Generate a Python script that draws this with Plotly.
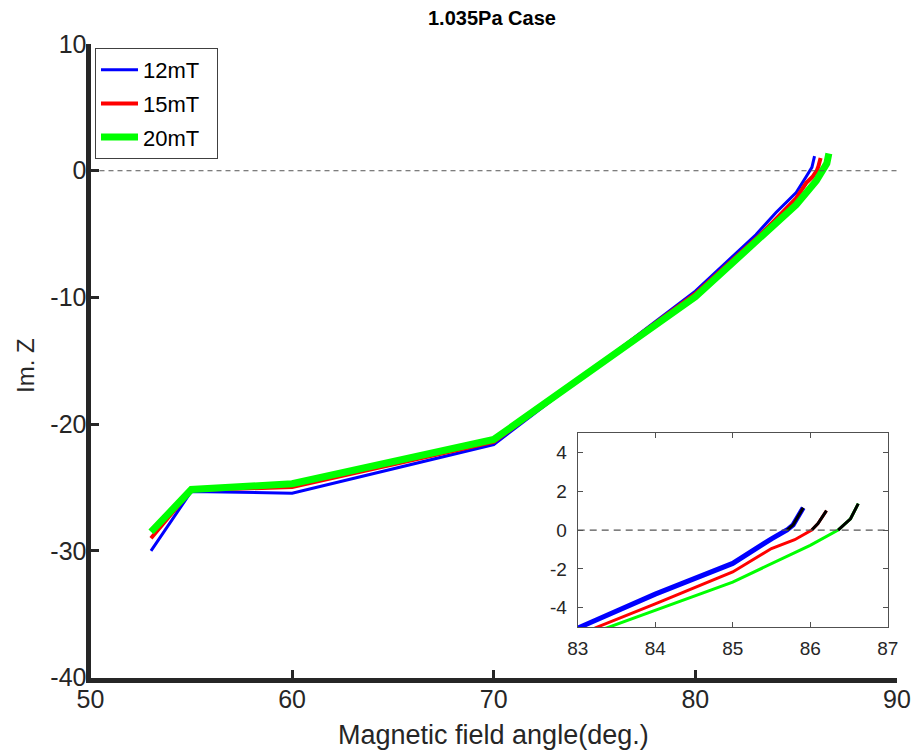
import plotly.graph_objects as go

# Im. Z versus magnetic field angle for three field strengths (1.035 Pa)
angle_12 = [53, 55, 60, 70, 80, 83.0, 84.0, 85.0, 85.5, 85.7, 85.78, 85.91]
imz_12 = [-30.0, -25.3, -25.45, -21.6, -9.5, -5.05, -3.3, -1.72, -0.45, 0.0, 0.27, 1.15]

angle_15 = [53, 55, 60, 70, 80, 83.22, 84.0, 85.0, 85.5, 85.8, 86.02, 86.1, 86.21]
imz_15 = [-29.0, -25.2, -24.95, -21.4, -9.7, -5.05, -3.8, -2.16, -0.95, -0.5, 0.0, 0.33, 1.0]

angle_20 = [53, 55, 60, 70, 80, 83.38, 84.0, 85.0, 86.0, 86.36, 86.52, 86.62]
imz_20 = [-28.5, -25.15, -24.7, -21.2, -9.95, -5.05, -4.14, -2.68, -0.79, 0.0, 0.58, 1.36]

series = [
    ("12mT", angle_12, imz_12, "#0000ff", 3, 5),
    ("15mT", angle_15, imz_15, "#ff0000", 4, 3),
    ("20mT", angle_20, imz_20, "#00ff00", 7, 3),
]

main_x_ticks = [50, 60, 70, 80, 90]
main_y_ticks = [-40, -30, -20, -10, 0, 10]
inset_x_ticks = [83, 84, 85, 86, 87]
inset_y_ticks = [-4, -2, 0, 2, 4]


def labels(vals):
    # plain hyphen for negative numbers
    return [str(v) for v in vals]


FONT = "Liberation Sans"
AXIS_COLOR = "#262626"
PAD = "\u00a0\u00a0"  # extra room on the right of legend entries

fig = go.Figure()

# main panel
for name, xs, ys, color, w_main, _ in series:
    fig.add_trace(go.Scatter(
        x=xs, y=ys, mode="lines", name=name + PAD, legendgroup=name,
        line=dict(color=color, width=w_main),
        xaxis="x", yaxis="y",
    ))

# zoomed inset around the zero crossing
for name, xs, ys, color, _, w_inset in series:
    fig.add_trace(go.Scatter(
        x=xs, y=ys, mode="lines", showlegend=False,
        line=dict(color=color, width=w_inset),
        xaxis="x2", yaxis="y2",
    ))
# positive part of each curve highlighted in black
for name, xs, ys, color, _, w_inset in series:
    pos = [(a, b) for a, b in zip(xs, ys) if b >= 0]
    fig.add_trace(go.Scatter(
        x=[p[0] for p in pos], y=[p[1] for p in pos], mode="lines",
        showlegend=False, line=dict(color="#000000", width=3),
        xaxis="x2", yaxis="y2",
    ))

# zero reference lines
fig.add_trace(go.Scatter(
    x=[main_x_ticks[0], main_x_ticks[-1]], y=[0, 0], mode="lines",
    showlegend=False, hoverinfo="skip",
    line=dict(color="#555555", width=1, dash="5px,4px"),
    xaxis="x", yaxis="y",
))
fig.add_trace(go.Scatter(
    x=[inset_x_ticks[0], inset_x_ticks[-1]], y=[0, 0], mode="lines",
    showlegend=False, hoverinfo="skip",
    line=dict(color="#555555", width=1.3, dash="7px,5px"),
    xaxis="x2", yaxis="y2",
))

fig.update_layout(
    width=912, height=753,
    margin=dict(l=0, r=0, t=0, b=0),
    paper_bgcolor="white", plot_bgcolor="white",
    font=dict(family=FONT, color=AXIS_COLOR),
    showlegend=True,
    legend=dict(
        x=95 / 912, y=1 - 48 / 753, xanchor="left", yanchor="top",
        bgcolor="white", bordercolor="#404040", borderwidth=1,
        font=dict(family=FONT, size=22, color="#000000"),
        tracegroupgap=2, itemwidth=37,
    ),
    xaxis=dict(
        domain=[90.5 / 912, 897 / 912], range=[50, 90],
        tickvals=main_x_ticks, ticktext=labels(main_x_ticks),
        ticks="inside", ticklen=8, tickwidth=3,
        tickcolor=AXIS_COLOR, showline=True, linewidth=5, linecolor=AXIS_COLOR,
        showgrid=False, zeroline=False, automargin=False,
        tickfont=dict(size=25, color=AXIS_COLOR), ticklabelstandoff=-5,
        anchor="y",
    ),
    yaxis=dict(
        domain=[1 - 677.7 / 753, 1 - 44 / 753], range=[-40, 10],
        tickvals=main_y_ticks, ticktext=labels(main_y_ticks),
        ticks="inside", ticklen=8, tickwidth=3,
        tickcolor=AXIS_COLOR, showline=True, linewidth=5, linecolor=AXIS_COLOR,
        showgrid=False, zeroline=False, automargin=False,
        tickfont=dict(size=25, color=AXIS_COLOR), ticklabelstandoff=-6,
        anchor="x",
    ),
    xaxis2=dict(
        domain=[577.7 / 912, 887.7 / 912], range=[83, 87],
        tickvals=inset_x_ticks, ticktext=labels(inset_x_ticks),
        ticks="inside", ticklen=5, tickwidth=1,
        tickcolor="#505050", showline=True, linewidth=1, linecolor="#505050",
        mirror="ticks", showgrid=False, zeroline=False, automargin=False,
        tickfont=dict(size=19, color=AXIS_COLOR), ticklabelstandoff=4,
        anchor="y2",
    ),
    yaxis2=dict(
        domain=[1 - 627.1 / 753, 1 - 433 / 753], range=[-5, 5],
        tickvals=inset_y_ticks, ticktext=labels(inset_y_ticks),
        ticks="inside", ticklen=5, tickwidth=1,
        tickcolor="#505050", showline=True, linewidth=1, linecolor="#505050",
        mirror="ticks", showgrid=False, zeroline=False, automargin=False,
        tickfont=dict(size=19, color=AXIS_COLOR), ticklabelstandoff=6,
        anchor="x2",
    ),
    annotations=[
        dict(text="<b>1.035Pa Case</b>", x=492 / 912, y=1 - 18 / 753,
             xref="paper", yref="paper", showarrow=False,
             xanchor="center", yanchor="middle",
             font=dict(size=20, color="#000000")),
        dict(text="Magnetic field angle(deg.)", x=493 / 912, y=1 - 735 / 753,
             xref="paper", yref="paper", showarrow=False,
             xanchor="center", yanchor="middle",
             font=dict(size=27, color=AXIS_COLOR)),
        dict(text="Im. Z", x=25 / 912, y=1 - 366 / 753, textangle=-90,
             xref="paper", yref="paper", showarrow=False,
             xanchor="center", yanchor="middle",
             font=dict(size=24, color=AXIS_COLOR)),
    ],
)

fig.write_html("out.html")
